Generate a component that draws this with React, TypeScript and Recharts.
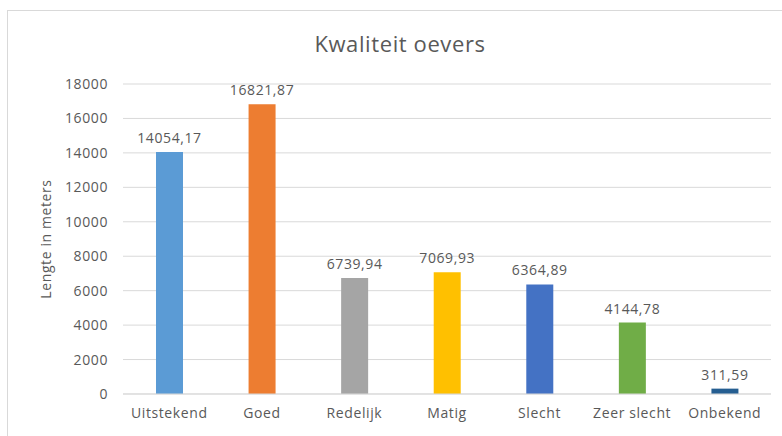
import { BarChart, Bar, XAxis, YAxis, CartesianGrid, Cell, LabelList, Label } from "recharts";

const categories = ["Uitstekend", "Goed", "Redelijk", "Matig", "Slecht", "Zeer slecht", "Onbekend"];
const lengths = [14054.17, 16821.87, 6739.94, 7069.93, 6364.89, 4144.78, 311.59];
const barColors = ["#5b9bd5", "#ed7d31", "#a5a5a5", "#ffc000", "#4472c4", "#70ad47", "#255e91"];
const yTicks = [0, 2000, 4000, 6000, 8000, 10000, 12000, 14000, 16000, 18000];

const data = categories.map((name, i) => ({ name, lengte: lengths[i] }));

const font = "'Open Sans', sans-serif";
const grey = "#595959";
const textStyle = { fill: grey, fontSize: 14, fontFamily: font, letterSpacing: 0.6 };

const fmt = (v: any) => Number(v).toFixed(2).replace(".", ",");

export default function App() {
  return (
    <div style={{ position: "absolute", left: 0, top: 0, width: 782, height: 436, background: "#fff", fontFamily: font }}>
      <div
        style={{
          position: "absolute",
          left: 7,
          top: 10,
          width: 790,
          height: 440,
          borderTop: "1px solid #d9d9d9",
          borderLeft: "1px solid #d9d9d9",
        }}
      />
      <div
        style={{
          position: "absolute",
          left: 0,
          width: 800,
          top: 28,
          textAlign: "center",
          fontSize: 22,
          letterSpacing: 0.6,
          color: grey,
        }}
      >
        Kwaliteit oevers
      </div>
      <div style={{ position: "absolute", left: 0, top: 0 }}>
        <BarChart width={782} height={436} data={data} margin={{ top: 84, right: 11, bottom: 0, left: 0 }}>
          <CartesianGrid vertical={false} stroke="#d9d9d9" />
          <XAxis
            dataKey="name"
            height={42}
            axisLine={{ stroke: "#d9d9d9" }}
            tickLine={false}
            tickSize={0}
            tickMargin={14}
            tick={textStyle}
            interval={0}
          />
          <YAxis
            width={123}
            domain={[0, 18000]}
            ticks={yTicks}
            axisLine={false}
            tickLine={false}
            tickSize={0}
            tickMargin={15}
            tick={textStyle}
          >
            <Label
              content={(props: any) => {
                const vb = props.viewBox;
                const cx = 45;
                const cy = vb.y + vb.height / 2;
                return (
                  <text
                    x={cx}
                    y={cy}
                    transform={`rotate(-90, ${cx}, ${cy})`}
                    textAnchor="middle"
                    dominantBaseline="central"
                    fill={grey}
                    fontSize={14}
                    fontFamily={font}
                    letterSpacing={0.6}
                  >
                    Lengte in meters
                  </text>
                );
              }}
            />
          </YAxis>
          <Bar dataKey="lengte" barSize={27} isAnimationActive={false}>
            {data.map((d, i) => (
              <Cell key={d.name} fill={barColors[i]} />
            ))}
            <LabelList dataKey="lengte" position="top" offset={9} formatter={fmt} style={textStyle} />
          </Bar>
        </BarChart>
      </div>
    </div>
  );
}
